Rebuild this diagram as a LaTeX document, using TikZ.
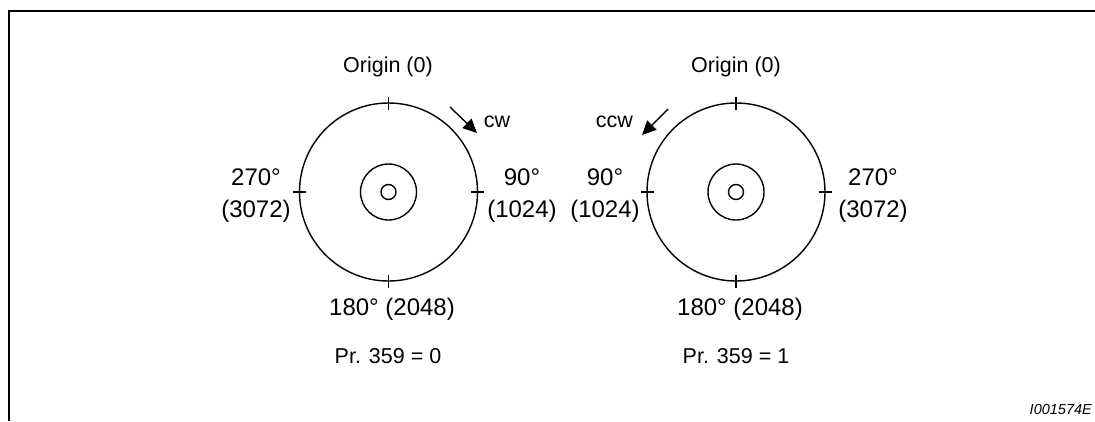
\documentclass[tikz,border=0pt]{standalone}
\usepackage{fontspec}
\setmainfont{Liberation Sans}
\usetikzlibrary{arrows.meta,calc}

\begin{document}
\begin{tikzpicture}[
  x=1pt, y=-1pt,
  >={Triangle[length=14pt, width=13pt]},
  frm/.style={line width=2.6pt},
  ring/.style={draw, line width=1.4pt},
  tck/.style={line width=1.4pt},
  rot/.style={->, line width=1.4pt},
  num/.style={inner sep=0pt, align=center, font=\fontsize{24}{32}\selectfont},
  lbl/.style={inner sep=0pt, font=\fontsize{21.5}{26}\selectfont},
  tag/.style={inner sep=0pt, font=\fontsize{14.5}{17}\selectfont\itshape}
]
\newcommand{\dialface}[1]{%
  \draw[ring] (#1) circle[radius=89];
  \draw[ring] (#1) circle[radius=28];
  \draw[ring] (#1) circle[radius=7.5];
  \foreach \a in {0,90,180,270}
    \draw[tck] ($(#1)+(\a:82.5)$) -- ($(#1)+(\a:95.5)$);}

\useasboundingbox (0,0) rectangle (1095,421);

% frame
\draw[frm] (9,421) -- (9,11) -- (1095,11);

% left dial (Pr. 359 = 0)
\coordinate (cL) at (388.5,192);
\dialface{cL}
\node[lbl, anchor=base] (orgL) at (388,72) {Origin (0)};
\node[num, anchor=north] (w270L) at (256,169) {270°\\(3072)};
\node[num, anchor=north] (w90L) at (522,169) {90°\\(1024)};
\node[num, anchor=base] (w180L) at (392,315) {180° (2048)};
\node[lbl, anchor=base] (prL) at (388,363) {Pr. 359 = 0};
\coordinate (cwS) at (450,107);
\coordinate (cwE) at (477,133);
\draw[rot] (cwS) -- (cwE);
\node[lbl, anchor=base] (cwL) at (497,127) {cw};

% right dial (Pr. 359 = 1)
\coordinate (cR) at (736,192);
\dialface{cR}
\node[lbl, anchor=base] (orgR) at (736,72) {Origin (0)};
\node[num, anchor=north] (w90R) at (605,169) {90°\\(1024)};
\node[num, anchor=north] (w270R) at (873,169) {270°\\(3072)};
\node[num, anchor=base] (w180R) at (740,315) {180° (2048)};
\node[lbl, anchor=base] (prR) at (736,363) {Pr. 359 = 1};
\coordinate (ccwS) at (668,109);
\coordinate (ccwE) at (642,135);
\draw[rot] (ccwS) -- (ccwE);
\node[lbl, anchor=base] (ccwL) at (614.5,127) {ccw};

\node[tag, anchor=base east] (fig) at (1092,414) {I001574E};

\end{tikzpicture}
\end{document}
